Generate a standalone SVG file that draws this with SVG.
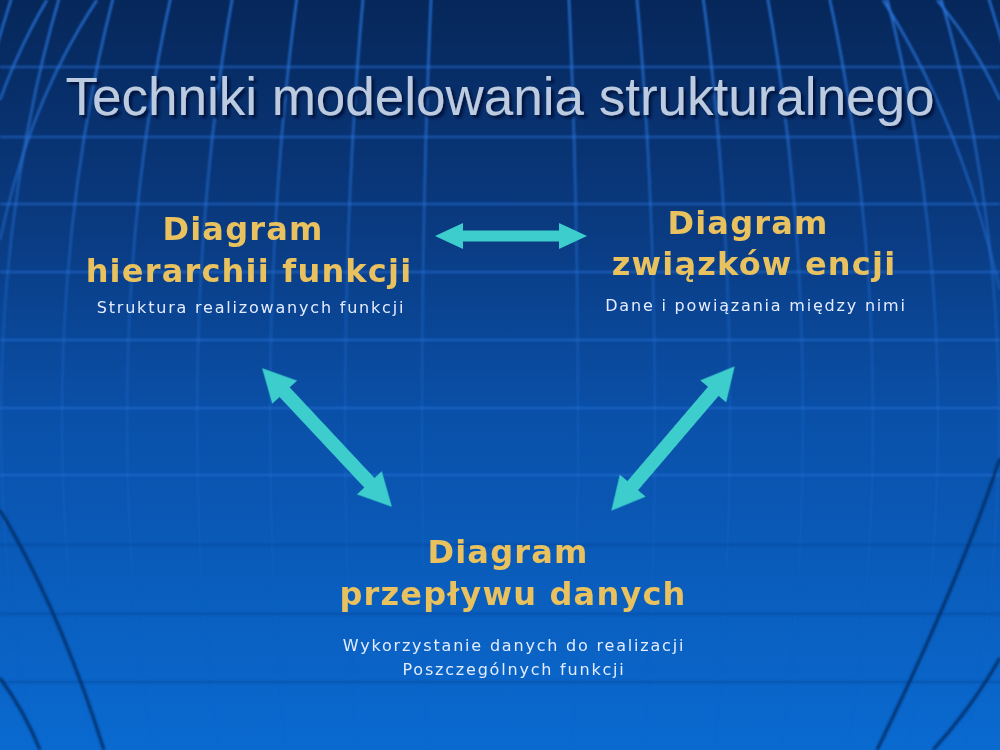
<svg xmlns="http://www.w3.org/2000/svg" width="1000" height="750" viewBox="0 0 1000 750">
  <defs>
    <linearGradient id="bg" x1="0" y1="0" x2="0" y2="1">
      <stop offset="0" stop-color="#06275a"/>
      <stop offset="0.3" stop-color="#0a3a80"/>
      <stop offset="0.55" stop-color="#0a50a8"/>
      <stop offset="1" stop-color="#0a6ad0"/>
    </linearGradient>
    <linearGradient id="mer" gradientUnits="userSpaceOnUse" x1="0" y1="0" x2="0" y2="750">
      <stop offset="0" stop-color="#2a78e0" stop-opacity="0.85"/>
      <stop offset="0.45" stop-color="#2a78e0" stop-opacity="0.3"/>
      <stop offset="0.8" stop-color="#2a78e0" stop-opacity="0.06"/>
      <stop offset="1" stop-color="#2a78e0" stop-opacity="0"/>
    </linearGradient>
    <filter id="soft" x="-5%" y="-5%" width="110%" height="110%">
      <feGaussianBlur stdDeviation="0.9"/>
    </filter>
    <filter id="softer" x="-5%" y="-5%" width="110%" height="110%">
      <feGaussianBlur stdDeviation="0.6"/>
    </filter>
    <filter id="shadow" x="-5%" y="-20%" width="110%" height="140%">
      <feGaussianBlur in="SourceAlpha" stdDeviation="1.2" result="b"/>
      <feOffset in="b" dx="3" dy="3" result="o"/>
      <feFlood flood-color="#04143a" flood-opacity="0.85"/>
      <feComposite in2="o" operator="in" result="s"/>
      <feGaussianBlur in="SourceGraphic" stdDeviation="0.6" result="t"/>
      <feMerge>
        <feMergeNode in="s"/>
        <feMergeNode in="t"/>
      </feMerge>
    </filter>
    <polygon id="arrowH" points="-76,0 -48,-13 -48,-5.5 48,-5.5 48,-13 76,0 48,13 48,5.5 -48,5.5 -48,13"/>
    <polygon id="arrowD" points="-95,0 -62,-17 -62,-7 62,-7 62,-17 95,0 62,17 62,7 -62,7 -62,17"/>
  </defs>
  <style>
    .title { font-family: "Liberation Sans", Arial, sans-serif; font-size: 53px; text-anchor: middle; fill: #bccbdf; }
    .head { font-family: "DejaVu Sans", Verdana, sans-serif; font-weight: bold; font-size: 32px; letter-spacing: 1.2px; fill: #e9c25e; text-anchor: middle; }
    .sub { font-family: "DejaVu Sans", Verdana, sans-serif; font-size: 16px; letter-spacing: 1.8px; fill: #e4ecff; text-anchor: middle; }
    .par { stroke: #2a72d8; stroke-width: 2.5; opacity: 0.55; }
    .par2 { stroke: #063a8a; stroke-width: 2; opacity: 0.45; }
    .merid { fill: none; stroke: url(#mer); stroke-width: 2.5; }
    .dark { fill: none; stroke: #062a60; stroke-width: 3; opacity: 0.85; }
    .arrow { fill: #3ccdcc; }
  </style>

  <g id="background">
    <rect x="0" y="0" width="1000" height="750" fill="url(#bg)"/>
    <g filter="url(#soft)">
      <line class="par" x1="0" y1="67" x2="1000" y2="67"/>
      <line class="par" x1="0" y1="137" x2="1000" y2="137"/>
      <line class="par" x1="0" y1="204" x2="1000" y2="204"/>
      <line class="par" x1="0" y1="272" x2="1000" y2="272"/>
      <line class="par" x1="0" y1="340" x2="1000" y2="340"/>
      <line class="par" x1="0" y1="408" x2="1000" y2="408" opacity="0.3"/>
      <line class="par" x1="0" y1="475" x2="1000" y2="475" opacity="0.3"/>
      <line class="par2" x1="0" y1="545" x2="1000" y2="545"/>
      <line class="par2" x1="0" y1="614" x2="1000" y2="614"/>
      <line class="par2" x1="0" y1="682" x2="1000" y2="682"/>
      <ellipse class="merid" cx="500" cy="420" rx="78" ry="900"/>
      <ellipse class="merid" cx="500" cy="420" rx="155" ry="900"/>
      <ellipse class="merid" cx="500" cy="420" rx="230" ry="900"/>
      <ellipse class="merid" cx="500" cy="420" rx="303" ry="900"/>
      <ellipse class="merid" cx="500" cy="420" rx="373" ry="900"/>
      <ellipse class="merid" cx="500" cy="420" rx="438" ry="900"/>
      <ellipse class="merid" cx="500" cy="420" rx="499" ry="900"/>
      <ellipse class="merid" cx="500" cy="420" rx="553" ry="900"/>
      <path class="merid" d="M0,240 Q30,100 97,0"/>
      <path class="merid" d="M0,100 Q20,45 47,0"/>
      <path class="merid" d="M883,0 Q960,120 1000,290"/>
      <path class="merid" d="M937,0 Q975,45 1000,100"/>
      <path class="dark" d="M0,510 Q60,610 104,750"/>
      <path class="dark" d="M0,678 Q25,712 40,750"/>
      <path class="dark" d="M1000,458 Q960,580 877,750"/>
      <path class="dark" d="M1000,658 Q970,710 933,750"/>
    </g>
  </g>

  <g id="title" filter="url(#shadow)">
    <text class="title" x="500" y="115">Techniki modelowania strukturalnego</text>
  </g>

  <g id="connectors" filter="url(#softer)">
    <use href="#arrowH" class="arrow" transform="translate(511,236)"/>
    <use href="#arrowD" class="arrow" transform="translate(327,437.5) rotate(46.9)"/>
    <use href="#arrowD" class="arrow" transform="translate(673,438.5) rotate(130.5)"/>
  </g>

  <g id="node-hierarchia" filter="url(#softer)">
    <text class="head" x="243" y="240">Diagram</text>
    <text class="head" x="249" y="282">hierarchii funkcji</text>
    <text class="sub" x="251" y="313">Struktura realizowanych funkcji</text>
  </g>

  <g id="node-zwiazki" filter="url(#softer)">
    <text class="head" x="748" y="234">Diagram</text>
    <text class="head" x="754" y="275">związków encji</text>
    <text class="sub" x="756" y="311">Dane i powiązania między nimi</text>
  </g>

  <g id="node-przeplyw" filter="url(#softer)">
    <text class="head" x="508" y="563">Diagram</text>
    <text class="head" x="513" y="605">przepływu danych</text>
    <text class="sub" x="514" y="651">Wykorzystanie danych do realizacji</text>
    <text class="sub" x="514" y="675">Poszczególnych funkcji</text>
  </g>
</svg>
